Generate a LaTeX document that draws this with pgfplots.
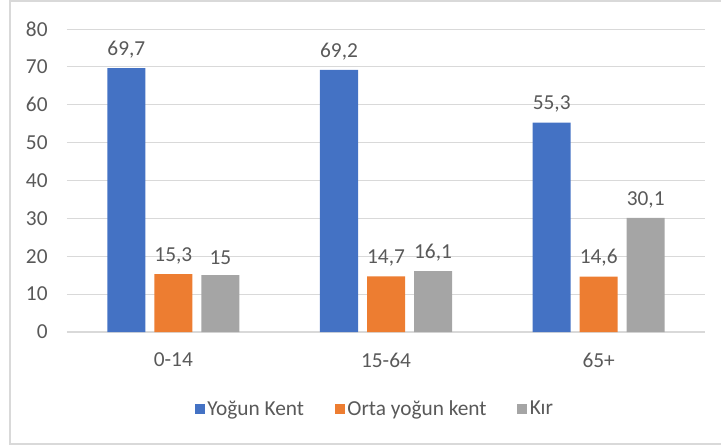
\documentclass[border=0pt]{standalone}
\usepackage{pgfplots}
\pgfplotsset{compat=1.18}
\usepackage{fontspec}
\setmainfont{Carlito}
\definecolor{cblue}{HTML}{4472C4}
\definecolor{corange}{HTML}{ED7D31}
\definecolor{cgray}{HTML}{A5A5A5}
\definecolor{gridc}{HTML}{D9D9D9}
\definecolor{txt}{HTML}{595959}
\begin{document}
\begin{tikzpicture}[x=0.75pt,y=0.75pt]
\useasboundingbox (0,0) rectangle (721,446);
\draw[gridc, line width=1.5pt] (9.5,2) rectangle (740,445);
\begin{axis}[
  at={(50.25pt,85.5pt)}, anchor=south west,
  scale only axis, width=478.5pt, height=227.25pt,
  ymin=0, ymax=80, ytick distance=10,
  xmin=-0.5, xmax=2.5,
  xtick=data, xticklabels={0-14,15-64,65+},
  ymajorgrids, grid style={gridc, line width=0.75pt},
  axis x line=bottom, axis y line=left,
  x axis line style={gridc, line width=1pt, -},
  y axis line style={draw=none},
  major tick length=0pt,
  tick label style={font=\fontsize{16}{18}\selectfont, text=txt},
  /pgf/number format/assume math mode=true,
  yticklabel style={xshift=-11pt},
  xticklabel style={yshift=-12pt},
  ybar, bar width=28.5pt,
  nodes near coords,
  every node near coord/.append style={font=\fontsize{16}{18}\selectfont, text=txt, yshift=4pt},
  /pgf/number format/use comma,
  legend style={at={(0.483,-0.254)}, anchor=center, draw=none, legend columns=-1,
    font=\fontsize{16}{18}\selectfont, text=txt,
    /tikz/every even column/.append style={column sep=21pt}},
  legend image code/.code={\fill[#1] (0pt,-3.75pt) rectangle (7.5pt,3.75pt);},
]
\addplot[fill=cblue, draw=none, bar shift=-35.25pt] coordinates {(0,69.7) (1,69.2) (2,55.3)};
\addplot[fill=corange, draw=none, bar shift=0pt] coordinates {(0,15.3) (1,14.7) (2,14.6)};
\addplot[fill=cgray, draw=none, bar shift=35.25pt] coordinates {(0,15) (1,16.1) (2,30.1)};
\legend{Yoğun Kent, Orta yoğun kent, Kır}
\end{axis}
\end{tikzpicture}
\end{document}
